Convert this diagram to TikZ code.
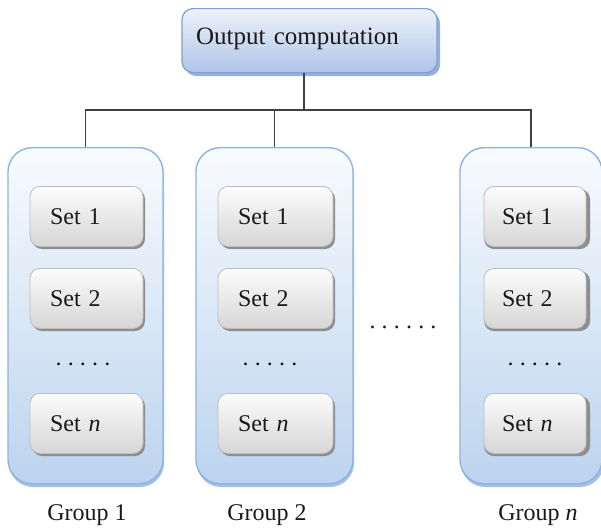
\documentclass[tikz,border=0pt]{standalone}
\usepackage{fontspec}
\setmainfont{Liberation Serif}
\usetikzlibrary{calc}

\definecolor{grouptop}{HTML}{F8FBFE}
\definecolor{groupbot}{HTML}{BCD4EE}
\definecolor{groupline}{HTML}{8EB3E0}
\definecolor{groupshade}{HTML}{A3BFE3}
\definecolor{settop}{HTML}{FCFCFC}
\definecolor{setbot}{HTML}{D6D6D6}
\definecolor{setline}{HTML}{BDBDBD}
\definecolor{setshade}{HTML}{8E8E8E}
\definecolor{outtop}{HTML}{EEF2FA}
\definecolor{outbot}{HTML}{AEC5E8}
\definecolor{outline}{HTML}{7FA0D4}
\definecolor{outshade}{HTML}{98AFD6}
\definecolor{wire}{HTML}{404040}
\definecolor{ink}{HTML}{1A1A1A}

% a row of evenly spaced periods
\newcommand{\dotgap}{\hspace{6.2pt}}

\tikzset{
  txt/.style={font=\fontsize{24}{28}\selectfont, text=ink},
  groupbox/.style={draw=groupline, line width=1.4pt, rounded corners=24pt,
    top color=grouptop, bottom color=groupbot, minimum height=336pt,
    inner sep=0pt, anchor=north},
  setbox/.style={txt, draw=setline, line width=0.8pt, rounded corners=10pt,
    top color=settop, bottom color=setbot, minimum height=60pt,
    inner xsep=20pt, inner ysep=0pt, align=left, anchor=north},
  outbox/.style={draw=outline, line width=1.2pt, rounded corners=11pt,
    top color=outtop, bottom color=outbot, minimum height=64pt,
    inner xsep=14pt, text width=227pt, align=left, text depth=9pt,
    font=\fontsize{25}{29}\selectfont, text=ink, anchor=north},
  wirestyle/.style={draw=wire, line width=1.4pt},
  dots/.style={txt, inner sep=0pt, anchor=base},
  grouplabel/.style={txt, inner sep=0pt},
}

\begin{document}
\begin{tikzpicture}[x=1pt, y=-1pt]
  \useasboundingbox (0,0) rectangle (601,530);
  \fill[white] (0,0) rectangle (601,530);

  % soft shadows under the boxes
  \fill[outshade, rounded corners=11pt] (185,12) rectangle (440,76);
  \fill[groupshade, rounded corners=24pt] (9,151) rectangle (164,487);
  \fill[groupshade, rounded corners=24pt] (197,151) rectangle (354,487);
  \fill[groupshade, rounded corners=24pt] (461,151) rectangle (604,487);

  % top box
  \node[outbox] (out) at (309.5,8) {Output computation};

  % group containers
  \node[groupbox, minimum width=155pt] (g1) at (85.5,147) {};
  \node[groupbox, minimum width=157pt] (g2) at (274.5,147) {};
  \node[groupbox, minimum width=142pt] (gn) at (531,147) {};

  % set boxes: shadows first, then the boxes
  \foreach \cx/\w in {86.5/113, 275.5/115, 535/106} {
    \foreach \ty in {186, 268, 393} {
      \fill[setshade, rounded corners=10pt]
        ($(\cx,\ty)+(-\w/2+2,3)$) rectangle ($(\cx,\ty)+(\w/2+2,63)$);
    }
  }

  \node[setbox, text width=73pt] (g1s1) at (86.5,186) {Set 1};
  \node[setbox, text width=73pt] (g1s2) at (86.5,268) {Set 2};
  \node[setbox, text width=73pt] (g1sn) at (86.5,393) {Set \textit{n}};

  \node[setbox, text width=75pt] (g2s1) at (275.5,186) {Set 1};
  \node[setbox, text width=75pt] (g2s2) at (275.5,268) {Set 2};
  \node[setbox, text width=75pt] (g2sn) at (275.5,393) {Set \textit{n}};

  \node[setbox, text width=66pt, inner xsep=18pt] (gns1) at (535,186) {Set 1};
  \node[setbox, text width=66pt, inner xsep=18pt] (gns2) at (535,268) {Set 2};
  \node[setbox, text width=66pt, inner xsep=18pt] (gnsn) at (535,393) {Set \textit{n}};

  % ellipses
  \node[dots] (d1) at (83,365) {.\dotgap.\dotgap.\dotgap.\dotgap.};
  \node[dots] (d2) at (270,365) {.\dotgap.\dotgap.\dotgap.\dotgap.};
  \node[dots] (dn) at (535,365) {.\dotgap.\dotgap.\dotgap.\dotgap.};
  \node[dots] (dmid) at (403,328) {.\dotgap.\dotgap.\dotgap.\dotgap.\dotgap.};

  % group captions
  \node[grouplabel] (l1) at (87,515) {Group 1};
  \node[grouplabel] (l2) at (267,515) {Group 2};
  \node[grouplabel] (ln) at (538,515) {Group \textit{n}};

  % connectors
  \coordinate (bus) at (304,110);
  \draw[wirestyle] (out.south -| bus) -- (bus);
  \draw[wirestyle] (g1.north) |- (bus) -| (gn.north);
  \draw[wirestyle] (g2.north) -- (g2.north |- bus);
\end{tikzpicture}
\end{document}
